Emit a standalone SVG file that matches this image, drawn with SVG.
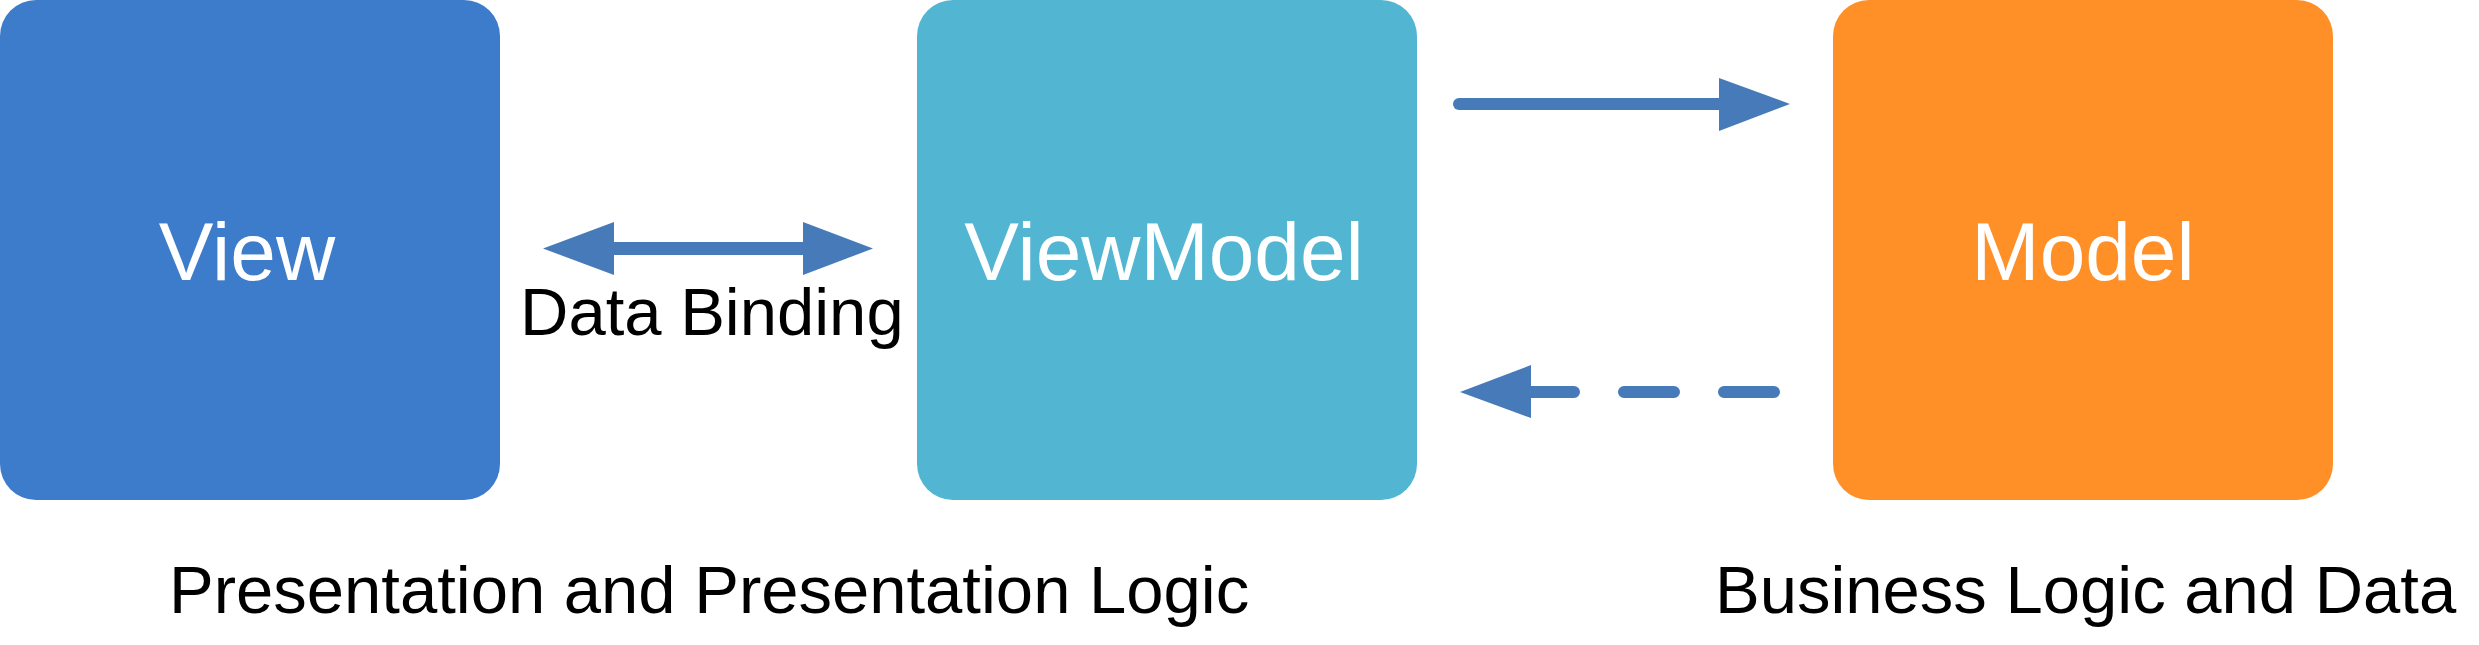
<svg xmlns="http://www.w3.org/2000/svg" width="2479" height="645" viewBox="0 0 2479 645">
<style>
.box-label{font-family:"Liberation Sans",Arial,Helvetica,sans-serif;font-size:82px;fill:#ffffff;text-anchor:middle}
.label{font-family:"Liberation Sans",Arial,Helvetica,sans-serif;font-size:67px;fill:#000000}
.arrow{fill:#467AB9}
.shaft{stroke:#467AB9;stroke-width:12;fill:none;stroke-linecap:round}
</style>
<rect width="2479" height="645" fill="#ffffff"/>
<g id="view">
<rect x="0" y="0" width="500" height="500" rx="36" ry="36" fill="#3C7CCB"/>
<text class="box-label" x="247" y="280">View</text>
</g>
<g id="viewmodel">
<rect x="917" y="0" width="500" height="500" rx="36" ry="36" fill="#52B6D3"/>
<text class="box-label" x="1164" y="280">ViewModel</text>
</g>
<g id="model">
<rect x="1833" y="0" width="500" height="500" rx="36" ry="36" fill="#FF8F27"/>
<text class="box-label" x="2083" y="280">Model</text>
</g>
<g id="connectors">
<g id="data-binding">
<rect class="arrow" x="610" y="242" width="196" height="13"/>
<polygon class="arrow" points="543,248.5 614,222 614,275"/>
<polygon class="arrow" points="873,248.5 803,222 803,275"/>
</g>
<g id="vm-to-model">
<line class="shaft" x1="1459" y1="104" x2="1722" y2="104"/>
<polygon class="arrow" points="1790,104 1719,78 1719,131"/>
</g>
<g id="model-to-vm">
<line class="shaft" x1="1774" y1="392" x2="1530" y2="392" stroke-dasharray="50 50"/>
<polygon class="arrow" points="1460,392 1531,365 1531,418"/>
</g>
</g>
<g id="labels">
<text class="label" x="520" y="335">Data Binding</text>
<text class="label" x="169" y="613">Presentation and Presentation Logic</text>
<text class="label" x="1715" y="613">Business Logic and Data</text>
</g>
</svg>
